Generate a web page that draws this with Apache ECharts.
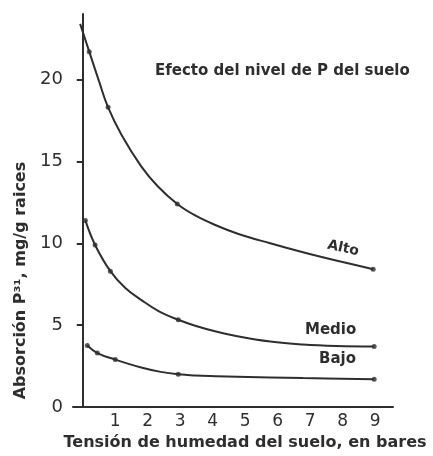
<!DOCTYPE html>
<html><head><meta charset="utf-8">
<script src="https://cdn.jsdelivr.net/npm/echarts@6/dist/echarts.min.js"></script>
<style>html,body{margin:0;padding:0;background:#fff}#c{width:433px;height:456px}</style>
</head><body><div id="c"></div>
<script>
const title = 'Efecto del nivel de P del suelo';
const xName = 'Tensión de humedad del suelo, en bares';
const yName = 'Absorción P³¹, mg/g raices';
const xTicks = [1,2,3,4,5,6,7,8,9];
const yTicks = [0,5,10,15,20];
const seriesNames = ['Alto','Medio','Bajo'];
// curves [x, y]
const altoCurve = [[-0.08,23.4],[0.2,21.7],[0.5,19.9],[0.78,18.3],[1.2,16.6],[1.8,14.7],[2.3,13.5],[2.91,12.4],[3.46,11.7],[4.1,11.1],[4.75,10.6],[5.77,10.0],[6.78,9.45],[7.83,8.93],[8.94,8.42]];
const medioCurve = [[0.08,11.4],[0.38,9.9],[0.85,8.3],[1.31,7.27],[1.83,6.5],[2.32,5.88],[2.94,5.33],[3.46,4.97],[4.1,4.62],[4.75,4.33],[5.77,4.0],[6.78,3.82],[7.8,3.73],[8.97,3.7]];
const bajoCurve = [[0.14,3.76],[0.45,3.3],[1.0,2.9],[1.83,2.4],[2.4,2.15],[2.94,2.0],[3.46,1.93],[4.1,1.89],[4.75,1.86],[6.78,1.77],[8.97,1.7]];
// measured points (dots) [x, y]
const altoPts = [[0.2,21.7],[0.78,18.3],[2.91,12.4],[8.94,8.42]];
const medioPts = [[0.08,11.4],[0.38,9.9],[0.85,8.3],[2.94,5.33],[8.97,3.7]];
const bajoPts = [[0.14,3.76],[0.45,3.3],[1.0,2.9],[2.94,2.0],[8.97,1.7]];

const ink = '#2e2e2e';
const font = '"DejaVu Sans", Verdana, sans-serif';
const chart = echarts.init(document.getElementById('c'), null, {renderer:'canvas'});
function lineS(name, data){
  return {name, type:'line', data, smooth:0.4, showSymbol:false, lineStyle:{color:ink,width:2}, z:2, silent:true};
}
function dotS(name, data){
  return {name:name+' puntos', type:'scatter', data, symbolSize:5, itemStyle:{color:ink}, z:3, silent:true};
}
chart.setOption({
  backgroundColor:'#fff',
  animation:false,
  title:{text:title, left:150, top:59, textStyle:{fontFamily:font, fontSize:15, fontWeight:'bold', color:ink}},
  grid:{left:73, right:40, top:14, bottom:46, containLabel:false},
  xAxis:{type:'value', min:-0.3, max:9.55,
    name:xName, nameLocation:'middle', nameGap:25,
    nameTextStyle:{fontFamily:font, fontSize:16, fontWeight:'bold', color:ink, padding:[0,0,0,24]},
    axisLine:{show:true, lineStyle:{color:ink,width:2}},
    axisTick:{show:false},
    splitLine:{show:false},
    axisLabel:{customValues:xTicks, fontFamily:font, fontSize:17, color:ink, margin:6}
  },
  yAxis:{type:'value', min:0, max:24,
    name:yName, nameLocation:'middle', nameGap:40, nameRotate:90,
    nameTextStyle:{fontFamily:font, fontSize:16, fontWeight:'bold', color:ink, padding:[0,140,0,0]},
    axisLine:{show:true, lineStyle:{color:ink,width:2}},
    axisTick:{show:true, customValues:yTicks, length:6, lineStyle:{color:ink,width:2}},
    splitLine:{show:false},
    axisLabel:{customValues:yTicks, fontFamily:font, fontSize:18, color:ink, margin:10}
  },
  graphic:[
    {type:'text', left:326, top:238, rotation:-0.22, style:{text:seriesNames[0], font:'bold 14px '+font, fill:ink}},
    {type:'text', left:305, top:323, style:{text:seriesNames[1], font:'bold 15px '+font, fill:ink}},
    {type:'text', left:319, top:352, style:{text:seriesNames[2], font:'bold 15px '+font, fill:ink}}
  ],
  series:[lineS(seriesNames[0],altoCurve), lineS(seriesNames[1],medioCurve), lineS(seriesNames[2],bajoCurve),
    dotS(seriesNames[0],altoPts), dotS(seriesNames[1],medioPts), dotS(seriesNames[2],bajoPts)]
});
</script></body></html>
